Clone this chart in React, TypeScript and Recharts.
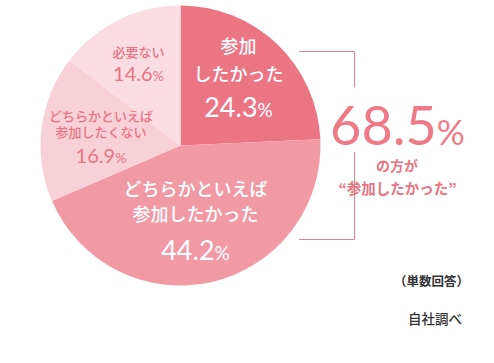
import React from 'react';
import { PieChart, Pie, Cell, Customized } from 'recharts';

const categories = ['参加したかった', 'どちらかといえば参加したかった', 'どちらかといえば参加したくない', '必要ない'];
const labelLines = [['参加', 'したかった'], ['どちらかといえば', '参加したかった'], ['どちらかといえば', '参加したくない'], ['必要ない']];
const values = [24.3, 44.2, 16.9, 14.6];
const colors = ['#EC7584', '#F19AA4', '#F7D1D7', '#FADDE2'];
const textColors = ['#FFFFFF', '#FFFFFF', '#E97482', '#E97482'];
const totalLabel = '68.5';
const note1 = '（単数回答）';
const note2 = '自社調べ';

const data = categories.map((c, i) => ({ name: c, value: values[i] }));

const JP = '"Noto Sans CJK JP", "Noto Sans", sans-serif';
const NUM = 'Lato, "Noto Sans", sans-serif';

// label layout per slice: offset from center, font sizes, line gap
const layouts = [
  { dx: 58, dy: -92.5, jp: 18, num: 27, pct: 19, gap: 28, numGap: 36 },
  { dx: 15, dy: 50.5, jp: 18, num: 27, pct: 19, gap: 25, numGap: 39 },
  { dx: -79.5, dy: -24.5, jp: 13, num: 20, pct: 14, gap: 16, numGap: 26 },
  { dx: -42, dy: -88.5, jp: 13, num: 20, pct: 14, gap: 24, numGap: 24 },
];

const renderLabel = (props: any) => {
  const { cx, cy, index } = props;
  const L = layouts[index];
  const x = cx + L.dx;
  const y = cy + L.dy;
  const lines = labelLines[index];
  const col = textColors[index];
  const els: any[] = [];
  lines.forEach((t, i) => {
    els.push(
      <text key={'l' + i} x={x} y={y + i * L.gap} textAnchor="middle" fill={col}
        fontFamily={JP} fontSize={L.jp} fontWeight={500}>{t}</text>
    );
  });
  const ny = y + (lines.length - 1) * L.gap + L.numGap;
  els.push(
    <text key="n" x={x} y={ny} textAnchor="middle" fill={col} fontFamily={NUM} fontWeight={400}>
      <tspan fontSize={L.num}>{values[index].toFixed(1)}</tspan>
      <tspan fontSize={L.pct}>%</tspan>
    </text>
  );
  return <g>{els}</g>;
};

const Extras = () => (
  <g>
    <polyline points="299,51.5 354.5,51.5 354.5,87" fill="none" stroke="#EC7F8D" strokeWidth={1} />
    <polyline points="354.5,152 354.5,239.5 299,239.5" fill="none" stroke="#EC7F8D" strokeWidth={1} />
    <text x={397.5} y={145} textAnchor="middle" fill="#EE7A88" fontFamily={NUM} fontWeight={400}>
      <tspan fontSize={54}>{totalLabel}</tspan>
      <tspan fontSize={35}>%</tspan>
    </text>
    <text x={397} y={171} textAnchor="middle" fill="#E97482" fontFamily={JP} fontSize={14} fontWeight={700}>の方が</text>
    <text x={397.5} y={194} textAnchor="middle" fill="#E97482" fontFamily={JP} fontSize={14.5} fontWeight={700}>“参加したかった”</text>
    <text x={431.5} y={286} textAnchor="middle" fill="#333333" fontFamily={JP} fontSize={12.5} fontWeight={700}>{note1}</text>
    <text x={435} y={324} textAnchor="middle" fill="#333333" fontFamily={JP} fontSize={13.5} fontWeight={500}>{note2}</text>
  </g>
);

export default function App() {
  return (
    <div style={{ position: 'absolute', left: 0, top: 0, width: 494, height: 363, background: '#fff' }}>
      <PieChart width={494} height={363} margin={{ top: 0, right: 0, bottom: 0, left: 0 }}>
        <Pie data={data} dataKey="value" cx={180.5} cy={145.5} outerRadius={140} innerRadius={0}
          startAngle={90} endAngle={-270} stroke="none" isAnimationActive={false}
          label={renderLabel} labelLine={false}>
          {data.map((d, i) => <Cell key={d.name} fill={colors[i]} />)}
        </Pie>
        <Customized component={Extras} />
      </PieChart>
    </div>
  );
}
